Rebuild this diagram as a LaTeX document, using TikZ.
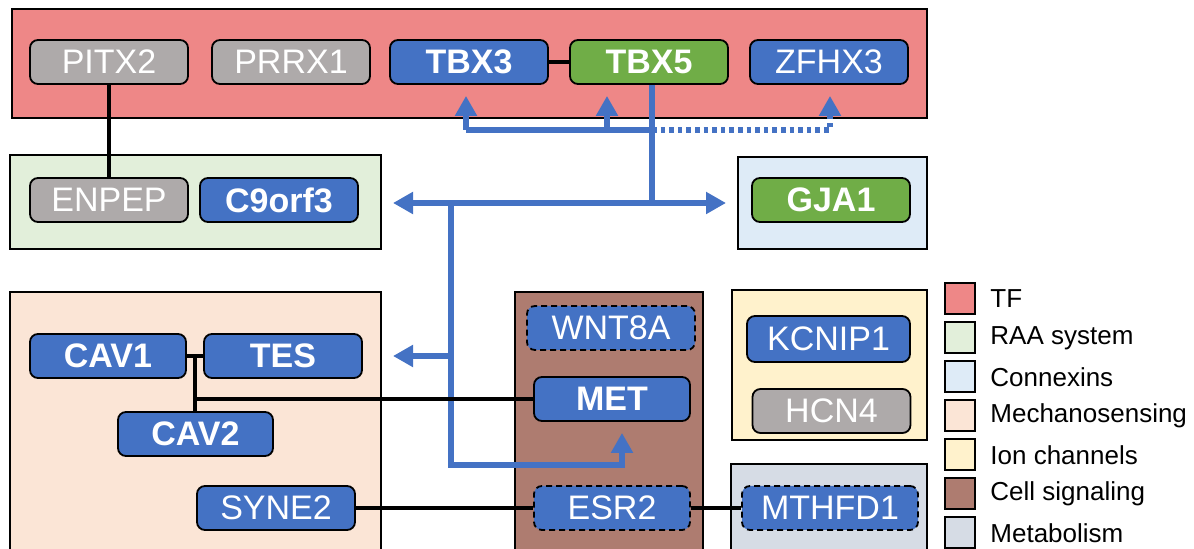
\documentclass[tikz,border=0pt]{standalone}
\usepackage{fontspec}
\setmainfont{Liberation Sans}
\usepackage{tikz}
\usetikzlibrary{arrows.meta,positioning,calc}
\definecolor{tfred}{HTML}{EE8787}
\definecolor{raagreen}{HTML}{E2EFDA}
\definecolor{cxblue}{HTML}{DEEBF7}
\definecolor{mechpeach}{HTML}{FBE5D6}
\definecolor{ionyellow}{HTML}{FFF2CC}
\definecolor{sigbrown}{HTML}{AE7C70}
\definecolor{metgray}{HTML}{D6DCE5}
\definecolor{genblue}{HTML}{4472C4}
\definecolor{gengreen}{HTML}{70AD47}
\definecolor{gengray}{HTML}{AEAAAA}
\tikzset{
  >=Stealth,
  grp/.style={rectangle, draw, line width=1pt, inner sep=0pt},
  gene/.style={rectangle, draw, rounded corners=4pt, line width=0.9pt, text=white, minimum width=79pt, minimum height=22pt, inner sep=0pt, font=\fontsize{17}{20}\selectfont},
  bgene/.style={gene, fill=genblue},
  ggene/.style={gene, fill=gengreen},
  grgene/.style={gene, fill=gengray},
  bold/.style={font=\fontsize{17}{20}\selectfont\bfseries},
  unc/.style={dash pattern=on 3pt off 2pt},
  link/.style={line width=1.8pt},
  sig/.style={draw=genblue, line width=2.9pt},
  tip/.style={-{Triangle[length=10pt,width=10.5pt]}},
  sigarr/.style={sig, tip, shorten >=5.5pt},
  legbox/.style={rectangle, draw, line width=1pt, minimum width=15pt, minimum height=15.5pt, inner sep=0pt},
  legtxt/.style={font=\fontsize{13}{15}\selectfont, inner sep=0pt}
}

\begin{document}
\begin{tikzpicture}[x=0.5pt,y=-0.5pt]
    \useasboundingbox (0,0) rectangle (1194,549);

    % === Group boxes ===
    \node[grp, fill=tfred, minimum width=457.5pt, minimum height=54.5pt] (tf) at (469.5,63.5) {};
    \node[grp, fill=raagreen, minimum width=185.5pt, minimum height=47pt] (raa) at (195.5,202) {};
    \node[grp, fill=cxblue, minimum width=94.5pt, minimum height=46pt] (cx) at (832.5,203) {};
    \node[grp, fill=mechpeach, minimum width=185.5pt, minimum height=134pt] (mech) at (195.5,426) {};
    \node[grp, fill=sigbrown, minimum width=94pt, minimum height=134pt] (cellsig) at (609,426) {};
    \node[grp, fill=ionyellow, minimum width=97.5pt, minimum height=75pt] (ion) at (829.5,365) {};
    \node[grp, fill=metgray, minimum width=98pt, minimum height=48pt] (metab) at (829,512) {};

    % === Genes ===
    % TF
    \node[grgene] (pitx2) at (109,62) {PITX2};
    \node[grgene] (prrx1) at (291,62) {PRRX1};
    \node[bgene, bold] (tbx3) at (469,62) {TBX3};
    \node[ggene, bold] (tbx5) at (649,62) {TBX5};
    \node[bgene] (zfhx3) at (829,62) {ZFHX3};
    % RAA system and connexins
    \node[grgene] (enpep) at (109,200) {ENPEP};
    \node[bgene, bold] (c9orf3) at (279,200) {C9orf3};
    \node[ggene, bold] (gja1) at (831,200) {GJA1};
    % Mechanosensing
    \node[bgene, bold, minimum width=78pt] (cav1) at (108,356) {CAV1};
    \node[bgene, bold] (tes) at (283,356) {TES};
    \node[bgene, bold, minimum width=77.5pt] (cav2) at (195.5,434) {CAV2};
    \node[bgene] (syne2) at (276,508) {SYNE2};
    % Cell signaling
    \node[bgene, unc, minimum width=84pt] (wnt8a) at (611,328) {WNT8A};
    \node[bgene, bold, minimum width=78pt] (met) at (612,399) {MET};
    \node[bgene, unc, minimum width=78pt] (esr2) at (612,508) {ESR2};
    % Ion channels and metabolism
    \node[bgene, minimum width=81.5pt, minimum height=23pt] (kcnip1) at (828.5,339) {KCNIP1};
    \node[grgene] (hcn4) at (831.5,411) {HCN4};
    \node[bgene, unc, minimum width=88pt] (mthfd1) at (830,508) {MTHFD1};

    % === TBX5 targets (blue) ===
    \coordinate (hub) at (652,203);
    \coordinate (split) at (451,203);
    \coordinate (fbl) at (466,130);
    \coordinate (fbm) at (607,130);
    \coordinate (fbr) at (830,130);
    \coordinate (loopin) at (622,465);
    \draw[sig] (tbx5.south -| hub) -- (hub);
    \draw[sig, {Triangle[length=10pt,width=10.5pt]}-{Triangle[length=10pt,width=10.5pt]}, shorten <=5.5pt, shorten >=5.5pt] (split -| raa.east) -- (hub -| cx.west);
    \draw[sigarr] (split) |- (loopin) -- (loopin |- met.south);
    \draw[sigarr] (split |- tes) -- (tes -| mech.east);
    % feedback onto the TF row
    \draw[sig] (fbl) -- (fbl -| hub);
    \draw[sigarr] (fbl) -- (fbl |- tbx3.south);
    \draw[sigarr] (fbm) -- (fbm |- tbx5.south);
    \draw[sigarr, dash pattern=on 2.3pt off 2pt] (fbl -| hub) -- (fbr) -- (fbr |- zfhx3.south);

    % === Interactions (black) ===
    \draw[link] (pitx2.south) -- (pitx2.south |- enpep.north);
    \draw[link] (tbx3.east) -- (tbx5.west);
    \draw[link] (cav1.east) -- (tes.west);
    \coordinate (cj) at ($(cav1.east)!0.5!(tes.west)$);
    \draw[link] (cj) -- (cj |- cav2.north);
    \draw[link] (cj |- met) -- (met.west);
    \draw[link] (syne2.east) -- (esr2.west);
    \draw[link] (esr2.east) -- (mthfd1.west);

    % === Legend ===
    \foreach \col/\lbl [count=\i from 0] in {tfred/TF, raagreen/RAA system, cxblue/Connexins, mechpeach/Mechanosensing, ionyellow/Ion channels, sigbrown/Cell signaling, metgray/Metabolism} {
        \node[legbox, fill=\col] (leg\i) at (960,299+39*\i) {};
        \node[legtxt, right=7pt of leg\i] {\lbl};
    }

\end{tikzpicture}
\end{document}
